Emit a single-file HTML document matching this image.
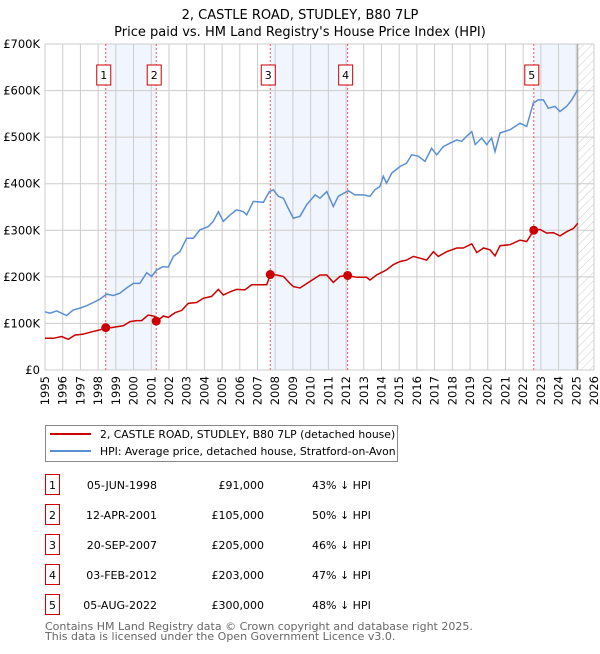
<!DOCTYPE html>
<html><head><meta charset="utf-8"><style>
body{margin:0;background:#fff;font-family:"DejaVu Sans","Liberation Sans",sans-serif;}
svg text{font-family:"DejaVu Sans","Liberation Sans",sans-serif;}
</style></head><body>
<svg id="c" width="600" height="650" xmlns="http://www.w3.org/2000/svg"></svg>
<script>
const hpiYears=[1995.0,1995.28,1995.66,1996.22,1996.6,1996.98,1997.35,1997.73,1998.1,1998.48,1998.86,1999.23,1999.61,1999.99,2000.36,2000.74,2001.02,2001.31,2001.68,2001.96,2002.25,2002.62,2003.0,2003.38,2003.75,2004.22,2004.5,2004.79,2005.07,2005.45,2005.82,2006.2,2006.39,2006.76,2007.33,2007.67,2007.89,2008.18,2008.46,2008.74,2009.02,2009.4,2009.78,2010.25,2010.53,2010.91,2011.28,2011.56,2012.13,2012.5,2012.97,2013.35,2013.63,2013.91,2014.1,2014.29,2014.58,2015.05,2015.42,2015.7,2016.08,2016.46,2016.83,2017.12,2017.5,2017.87,2018.25,2018.53,2018.81,2019.1,2019.29,2019.66,2019.94,2020.22,2020.41,2020.69,2021.26,2021.82,2022.2,2022.57,2022.85,2023.14,2023.42,2023.8,2024.08,2024.46,2024.74,2025.08];
const hpiValues=[125,122,127,117,129,133,138,145,152,163,160,165,176,186,186,209,201,215,222,221,244,254,283,283,301,308,319,340,319,333,344,340,333,362,360,383,387,373,369,347,326,330,355,376,369,383,351,373,385,376,376,373,387,394,416,401,423,437,444,462,459,448,476,462,480,487,494,491,502,512,484,498,484,498,469,509,516,530,523,573,580,580,562,566,555,566,580,602];
const priceYears=[1995.0,1995.47,1995.94,1996.32,1996.69,1997.16,1997.64,1998.1,1998.43,1998.76,1999.05,1999.42,1999.8,2000.18,2000.46,2000.83,2001.21,2001.28,2001.4,2001.68,2001.96,2002.34,2002.72,2003.09,2003.56,2003.94,2004.41,2004.79,2005.07,2005.45,2005.82,2006.29,2006.67,2007.14,2007.52,2007.72,2008.08,2008.46,2008.83,2009.02,2009.4,2009.96,2010.53,2010.91,2011.28,2011.66,2012.09,2012.6,2013.16,2013.35,2013.72,2014.29,2014.67,2015.05,2015.42,2015.8,2016.18,2016.55,2016.93,2017.21,2017.68,2018.25,2018.62,2019.1,2019.38,2019.76,2020.13,2020.41,2020.69,2021.26,2021.82,2022.2,2022.6,2022.95,2023.33,2023.7,2024.08,2024.46,2024.84,2025.08];
const priceValues=[68,68,72,66,75,77,82,86,91,91,93,95,104,106,106,118,115,105,107,116,113,123,128,143,145,154,158,173,161,168,173,172,183,183,183,205,204,201,186,179,176,190,204,204,188,201,203,199,199,193,204,215,226,233,236,244,240,236,254,244,254,262,262,271,252,262,258,245,267,269,279,276,300,302,294,295,288,297,304,315];
const saleYears=[1998.43,2001.28,2007.72,2012.09,2022.6];
const salePrices=[91,105,205,203,300];
const saleLabels=["1","2","3","4","5"];
const saleDates=["05-JUN-1998","12-APR-2001","20-SEP-2007","03-FEB-2012","05-AUG-2022"];
const salePriceText=["£91,000","£105,000","£205,000","£203,000","£300,000"];
const salePct=["43% ↓ HPI","50% ↓ HPI","46% ↓ HPI","47% ↓ HPI","48% ↓ HPI"];
const yTicks=[0,100,200,300,400,500,600,700];
const yTickLabels=["£0","£100K","£200K","£300K","£400K","£500K","£600K","£700K"];
const xTicks=[];for(let y=1995;y<=2026;y++)xTicks.push(y);

const NS="http://www.w3.org/2000/svg",svg=document.getElementById('c');
const L=45,R=594,T=44,B=370,X0=1995,X1=2026,YMAX=700,dataEnd=2025.08;
const sx=v=>L+(v-X0)/(X1-X0)*(R-L), sy=v=>B-v/YMAX*(B-T);
function mk(tag,attrs,parent){const e=document.createElementNS(NS,tag);for(const k in attrs)e.setAttribute(k,attrs[k]);(parent||svg).appendChild(e);return e;}
function txt(s,attrs,parent){const e=mk('text',attrs,parent);e.textContent=s;return e;}

const defs=mk('defs',{});
const pat=mk('pattern',{id:'hatch',width:6,height:6,patternUnits:'userSpaceOnUse',patternTransform:'rotate(45)'},defs);
mk('line',{x1:0,y1:0,x2:0,y2:6,stroke:'#ccc','stroke-width':1},pat);

let t=txt('2, CASTLE ROAD, STUDLEY, B80 7LP',{x:300,y:19,'text-anchor':'middle','font-size':13,fill:'#000'});

t=txt("Price paid vs. HM Land Registry's House Price Index (HPI)",{x:300,y:36,'text-anchor':'middle','font-size':13,fill:'#000'});


const bands=[[saleYears[0],saleYears[1]],[saleYears[2],saleYears[3]],[saleYears[4],dataEnd]];
bands.forEach((b,i)=>{const r=mk('rect',{x:sx(b[0]),y:T,width:sx(b[1])-sx(b[0]),height:B-T,fill:'#eef3fc',opacity:0.8});
});
let h=mk('rect',{x:sx(dataEnd),y:T,width:R-sx(dataEnd),height:B-T,fill:'url(#hatch)'});


xTicks.forEach(y=>{const l=mk('line',{x1:sx(y),x2:sx(y),y1:T,y2:B,stroke:'#ccc','stroke-width':1});

const tx=txt(String(y),{x:0,y:0,transform:`translate(${sx(y)+4},${B+6}) rotate(-90)`,'text-anchor':'end','font-size':11.5,fill:'#000'});
});
yTicks.forEach((v,i)=>{const l=mk('line',{x1:L,x2:R,y1:sy(v),y2:sy(v),stroke:'#ccc','stroke-width':1});

const tx=txt(yTickLabels[i],{x:40,y:sy(v)+4,'text-anchor':'end','font-size':11.5,fill:'#000'});
});
let ln=mk('line',{x1:sx(dataEnd),x2:sx(dataEnd),y1:T,y2:B,stroke:'#999','stroke-width':1});


saleYears.forEach((y,i)=>{const l=mk('line',{x1:sx(y),x2:sx(y),y1:T,y2:B,stroke:'#e55','stroke-width':1,'stroke-dasharray':'2,2'});

const g=mk('g',{});
mk('rect',{x:sx(y)-9,y:65,width:14,height:20,fill:'#fff',stroke:'#c00','stroke-width':1},g);
txt(saleLabels[i],{x:sx(y)-2,y:79,'text-anchor':'middle','font-size':11,fill:'#000'},g);});

const pts=(xs,vs)=>xs.map((x,i)=>sx(x).toFixed(1)+','+sy(vs[i]).toFixed(1)).join(' ');
let p=mk('polyline',{points:pts(hpiYears,hpiValues),fill:'none',stroke:'#5b8fd4','stroke-width':1.5});

p=mk('polyline',{points:pts(priceYears,priceValues),fill:'none',stroke:'#cc0000','stroke-width':1.5});

saleYears.forEach((y,i)=>{const c=mk('circle',{cx:sx(y),cy:sy(salePrices[i]),r:4.5,fill:'#cc0000'});
});

const lg=mk('g',{});
mk('rect',{x:45.5,y:425.5,width:352,height:36,fill:'#fff',stroke:'#888','stroke-width':1},lg);
mk('line',{x1:50,x2:91,y1:434,y2:434,stroke:'#cc0000','stroke-width':2},lg);
txt('2, CASTLE ROAD, STUDLEY, B80 7LP (detached house)',{x:100,y:438,'font-size':10.8,fill:'#000'},lg);
mk('line',{x1:50,x2:91,y1:451,y2:451,stroke:'#5b8fd4','stroke-width':2},lg);
txt('HPI: Average price, detached house, Stratford-on-Avon',{x:100,y:455,'font-size':10.8,fill:'#000'},lg);

saleLabels.forEach((s,i)=>{const yy=483+i*30;const g=mk('g',{});

mk('rect',{x:45.5,y:yy-8.5,width:14,height:20,fill:'#fff',stroke:'#c00','stroke-width':1},g);
txt(s,{x:52.5,y:yy+6,'text-anchor':'middle','font-size':11,fill:'#000'},g);
txt(saleDates[i],{x:157,y:yy+6,'text-anchor':'end','font-size':11,fill:'#000'},g);
txt(salePriceText[i],{x:264,y:yy+6,'text-anchor':'end','font-size':11,fill:'#000'},g);
txt(salePct[i],{x:312,y:yy+6,'font-size':11,fill:'#000'},g);});

t=txt('Contains HM Land Registry data © Crown copyright and database right 2025.',{x:45,y:630,'font-size':11,fill:'#666'});

t=txt('This data is licensed under the Open Government Licence v3.0.',{x:45,y:640,'font-size':11,fill:'#666'});

</script>
</body></html>
